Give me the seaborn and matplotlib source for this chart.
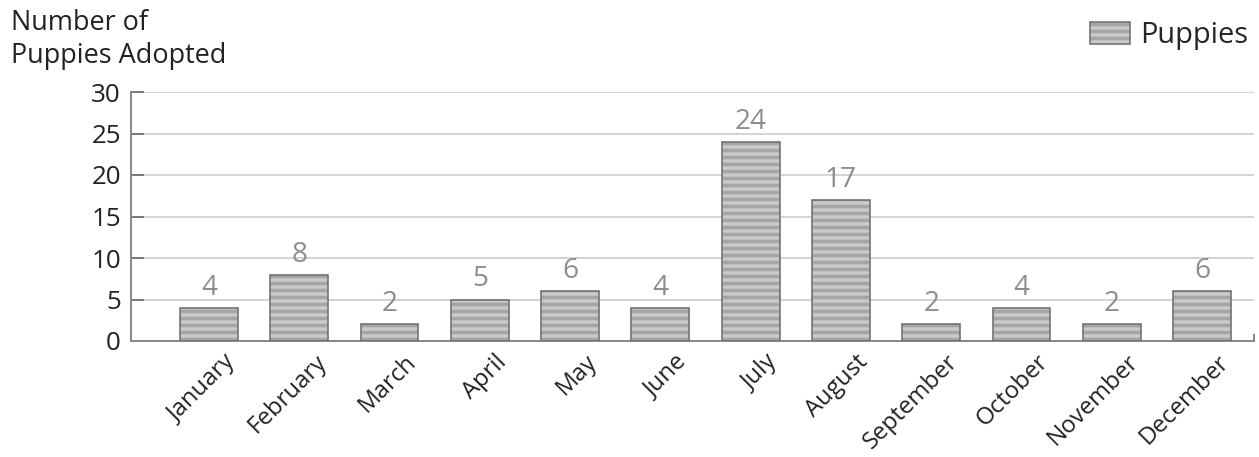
import matplotlib
matplotlib.use("Agg")
import matplotlib.pyplot as plt
import seaborn as sns
from matplotlib.patches import Patch
from matplotlib.transforms import ScaledTranslation

# datos del grafico
months = ["January", "February", "March", "April", "May", "June",
          "July", "August", "September", "October", "November", "December"]
puppies = [4, 8, 2, 5, 6, 4, 24, 17, 2, 4, 2, 6]
y_ticks = [0, 5, 10, 15, 20, 25, 30]

DPI = 84  # con esta resolucion el rayado '--' queda cada ~7 px


def px(v):
    # pixeles -> puntos
    return v * 72 / DPI


sns.set_theme(style="white")
plt.rcParams["font.family"] = ["Open Sans", "DejaVu Sans"]
plt.rcParams["hatch.linewidth"] = px(3.5)

light = "#c9cacc"
dark = "#a4a5a7"
edge = "#707070"

fig = plt.figure(figsize=(1259 / DPI, 457 / DPI), dpi=DPI)
ax = fig.add_axes([131 / 1259, 1 - 341 / 457, (1254 - 131) / 1259, (341 - 92) / 457])

# barras rayadas
sns.barplot(x=months, y=puppies, color=light, saturation=1, width=0.64,
            edgecolor=dark, linewidth=0, hatch="--", errorbar=None,
            ax=ax, zorder=2)
# contorno
sns.barplot(x=months, y=puppies, color=edge, fill=False, width=0.64,
            linewidth=px(1.6), errorbar=None, ax=ax, zorder=3)

ax.bar_label(ax.containers[0], padding=px(6), color="#8d8d8d", fontsize=px(28))

ax.set_xlim(-0.864, 11.576)
ax.set_ylim(0, 30)
ax.set_yticks(y_ticks)
ax.yaxis.grid(True, color="#c6c6c6", linewidth=px(1.5))
ax.set_axisbelow(True)

for s in ["top", "right"]:
    ax.spines[s].set_visible(False)
for s in ["left", "bottom"]:
    ax.spines[s].set_color("#8a8a8a")
    ax.spines[s].set_linewidth(px(2))

ax.tick_params(axis="y", direction="in", length=px(13), width=px(2),
               color="#7a7a7a", labelsize=px(26), labelcolor="#222222", pad=px(10), left=True)
ax.tick_params(axis="x", length=0, labelsize=px(24), labelcolor="#222222", pad=px(9))
# marquita al final del eje x
ax.set_xticks([ax.get_xlim()[1]], minor=True)
ax.tick_params(axis="x", which="minor", direction="in", length=px(7), width=px(2),
               color="#8a8a8a", bottom=True)
ax.set_xlabel("")
ax.set_ylabel("")

for lab in ax.get_xticklabels():
    lab.set_rotation(45)
    lab.set_ha("right")
    lab.set_va("top")
    lab.set_rotation_mode("anchor")
    lab.set_transform(lab.get_transform() + ScaledTranslation(15 / DPI, 0, fig.dpi_scale_trans))

fig.text(11 / 1259, 1 - 9 / 457, "Number of\nPuppies Adopted", ha="left", va="top",
         fontsize=px(27), color="#222222", linespacing=1.22)

h1 = Patch(facecolor=light, edgecolor=dark, hatch="--", linewidth=0)
h2 = Patch(facecolor="none", edgecolor=edge, linewidth=px(1.6))
fig.legend(handles=[(h1, h2)], labels=["Puppies"], loc="upper right",
           bbox_to_anchor=(1248 / 1259, 1 - 21 / 457), frameon=False,
           fontsize=px(29), handlelength=1.4, handleheight=0.76,
           handletextpad=0.33, borderpad=0, borderaxespad=0)

fig.savefig("out.png", dpi=DPI)
